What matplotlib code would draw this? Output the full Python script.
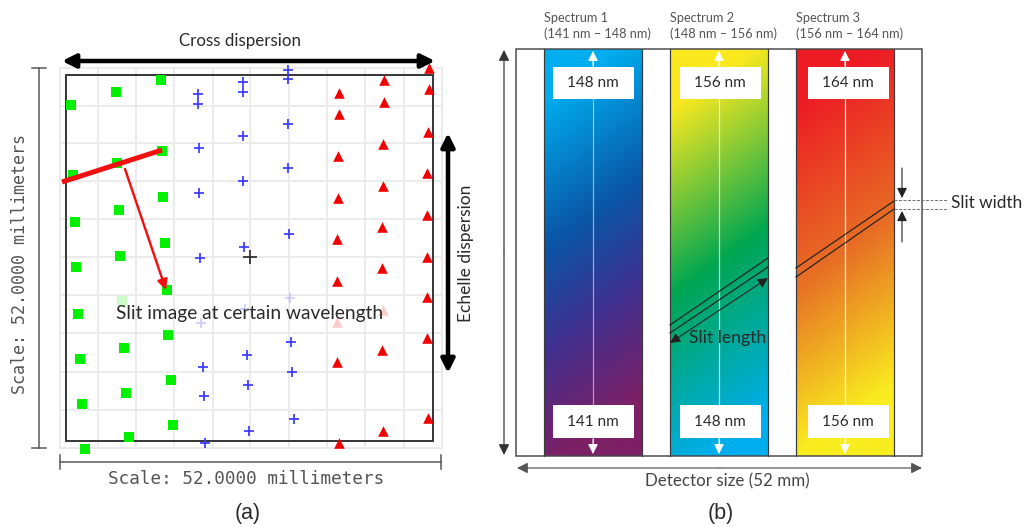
import numpy as np
import matplotlib
matplotlib.use('Agg')
import matplotlib.pyplot as plt
from matplotlib.colors import LinearSegmentedColormap
from matplotlib.patches import Rectangle

# Spot positions, in image pixels
green_x = [71, 73, 75, 76, 78, 80, 82, 85, 116, 117, 119, 120, 124, 126, 129,
           161, 162, 163, 165, 167, 168, 171, 173]
green_y = [105, 175, 222, 267, 314, 359, 404, 449, 92, 163, 210, 256, 348, 393, 437,
           80, 151, 197, 243, 290, 335, 380, 425]
blue_x = [198, 198, 199, 199, 200, 203, 204, 205, 243, 243, 243, 243, 244, 247, 248, 249,
          288, 288, 288, 288, 289, 291, 292, 294]
blue_y = [94, 104, 148, 193, 258, 367, 396, 443, 82, 92, 136, 181, 247, 355, 385, 431,
          70, 79, 124, 168, 234, 342, 372, 419]
red_x = [339, 339, 338, 338, 337, 337, 337, 339, 384, 384, 383, 383, 382, 382, 382, 383,
         429, 429, 428, 427, 427, 427, 427, 427, 428]
red_y = [93, 114, 156, 198, 239, 281, 362, 443, 80, 102, 144, 186, 227, 268, 350, 431,
         68, 89, 132, 173, 215, 257, 297, 338, 418]
# spots washed out behind the label
faint_green = ([122], [301])
faint_blue = ([201, 245, 290], [323, 309, 298])
faint_red = ([337, 383], [322, 310])
center_x, center_y = [250], [257]

grid_x = [60, 98, 136, 174, 213, 250, 289, 327, 365, 404, 442]
grid_y = [68, 106, 143, 181, 219, 257, 295, 333, 372, 410, 448]

band_left = [544, 670, 796]
band_right = [642, 768, 894]
band_mid = [593, 719, 845]
spectrum_names = ['Spectrum 1', 'Spectrum 2', 'Spectrum 3']
spectrum_ranges = ['(141 nm \u2013 148 nm)', '(148 nm \u2013 156 nm)', '(156 nm \u2013 164 nm)']
top_labels = ['148 nm', '156 nm', '164 nm']
bottom_labels = ['141 nm', '148 nm', '156 nm']
band_stops = [
    [(0, '#00aeef'), (0.1, '#00aeef'), (0.42, '#0a55a5'), (0.64, '#41308f'), (0.88, '#7d2066'), (1, '#7d2066')],
    [(0, '#fbe91f'), (0.12, '#fbe91f'), (0.52, '#00a651'), (0.92, '#00aeef'), (1, '#00aeef')],
    [(0, '#ed1c24'), (0.12, '#ed1c24'), (0.5, '#e76f25'), (0.86, '#f9ed1f'), (1, '#f9ed1f')],
]

plt.rcParams['font.family'] = ['Lato', 'DejaVu Sans']
dark = '#2a2a2a'
px = 0.72  # points per image pixel at dpi 100

fig = plt.figure(figsize=(10.24, 5.27), dpi=100)
ax = fig.add_axes([0, 0, 1, 1])
ax.axis('off')


def arrow(x0, y0, x1, y1, style='-|>', lw=1.0, color=dark, scale=8, z=6):
    ax.annotate('', xy=(x1, y1), xytext=(x0, y0), zorder=z,
                arrowprops=dict(arrowstyle=style, lw=lw * px, color=color, mutation_scale=scale,
                                shrinkA=0, shrinkB=0))


# (a) spot diagram
for g in grid_x:
    ax.plot([g, g], [grid_y[0], grid_y[-1]], color='#ebebeb', lw=2 * px, zorder=1)
for g in grid_y:
    ax.plot([grid_x[0], grid_x[-1]], [g, g], color='#ebebeb', lw=2 * px, zorder=1)
ax.add_patch(Rectangle((66, 75), 367, 366, fill=False, ec='#3a3a3a', lw=2 * px, zorder=2))

ax.scatter(green_x, green_y, marker='s', s=42, color='#00f000', lw=0, zorder=3)
ax.scatter(blue_x, blue_y, marker='+', s=42, color='#3b3bff', lw=1.25, zorder=3)
ax.scatter(red_x, red_y, marker='^', s=58, color='#f00000', lw=0, zorder=3)
ax.scatter(*faint_green, marker='s', s=42, color='#00f000', alpha=0.2, lw=0, zorder=3)
ax.scatter(*faint_blue, marker='+', s=42, color='#3b3bff', alpha=0.25, lw=1.25, zorder=3)
ax.scatter(*faint_red, marker='^', s=58, color='#f00000', alpha=0.2, lw=0, zorder=3)
ax.scatter(center_x, center_y, marker='+', s=110, color='#333333', lw=1.3, zorder=3)

arrow(62, 61, 435, 61, '<|-|>', 4.5, 'black', 20)
arrow(448, 133, 448, 373, '<|-|>', 4.5, 'black', 20)
ax.plot([62, 162], [182, 150], color='#f01010', lw=5 * px, solid_capstyle='butt', zorder=5)
arrow(125, 169, 166, 290, '-|>', 2.4, '#f01010', 15)

ax.text(240, 41, 'Cross dispersion', fontsize=12.2, color=dark, ha='center', va='center')
ax.text(466, 253, 'Echelle dispersion', fontsize=12.5, color=dark, ha='center', va='center', rotation=90)
ax.text(116, 314, 'Slit image at certain wavelength', fontsize=13.8, color=dark, ha='left', va='center', zorder=7)

ax.plot([39, 39], [68, 448], color='#555555', lw=1.5 * px)
ax.plot([32, 46], [68, 68], color='#555555', lw=1.5 * px)
ax.plot([32, 46], [448, 448], color='#555555', lw=1.5 * px)
ax.plot([60, 441], [462, 462], color='#555555', lw=1.5 * px)
ax.plot([60, 60], [455, 469], color='#555555', lw=1.5 * px)
ax.plot([441, 441], [455, 469], color='#555555', lw=1.5 * px)
ax.text(20, 264, 'Scale: 52.0000 millimeters', family='DejaVu Sans Mono', fontsize=12, color='#555555',
        rotation=90, ha='center', va='center')
ax.text(246, 479, 'Scale: 52.0000 millimeters', family='DejaVu Sans Mono', fontsize=12.7, color='#555555',
        ha='center', va='center')
ax.text(248, 513, '(a)', family='Liberation Sans', fontsize=15.5, color=dark, ha='center', va='center')

# (b) detector layout
top, bottom = 49, 456
k = 0.7
yy, xx = np.mgrid[top:bottom:200j, 0:98:60j]
t = ((yy - top) + k * xx) / ((bottom - top) + k * 98)
for i in range(3):
    cmap = LinearSegmentedColormap.from_list(f'band{i}', band_stops[i])
    ax.imshow(t, cmap=cmap, vmin=0, vmax=1, extent=(band_left[i], band_right[i], bottom, top),
              aspect='auto', interpolation='bilinear', zorder=2)
    ax.plot([band_left[i]] * 2, [top, bottom], color='#3a3a3a', lw=1.2 * px, zorder=3)
    ax.plot([band_right[i]] * 2, [top, bottom], color='#3a3a3a', lw=1.2 * px, zorder=3)
    m = band_mid[i]
    line_alpha = 0.55 if i == 0 else 0.8 if i == 1 else 1
    ax.plot([m, m], [58, 446], color='white', lw=1.2 * px, alpha=line_alpha, zorder=3)
    arrow(m, 66, m, 51, '-|>', 1, 'white', 15)
    arrow(m, 439, m, 454, '-|>', 1, 'white', 15)
    bx = [553, 680, 808][i]
    ax.add_patch(Rectangle((bx, 67), 80.5, 32, fc='white', ec='none', zorder=4))
    ax.add_patch(Rectangle((bx, 405), 80.5, 33, fc='white', ec='none', zorder=4))
    ax.text(bx + 40, 83, top_labels[i], fontsize=11, color=dark, ha='center', va='center', zorder=7)
    ax.text(bx + 40, 422, bottom_labels[i], fontsize=11, color=dark, ha='center', va='center', zorder=7)
    ax.text(band_left[i], 18, spectrum_names[i], fontsize=9.2, color='#555555', ha='left', va='center')
    ax.text(band_left[i], 34, spectrum_ranges[i], fontsize=9.2, color='#555555', ha='left', va='center')

ax.add_patch(Rectangle((516, top), 406, bottom - top, fill=False, ec='#4a4a4a', lw=1.5 * px, zorder=5))

# slit images across bands 2 and 3
for x0, x1, y0, y1 in [(670, 768, 325, 258), (670, 768, 333, 267),
                       (796, 894, 268, 201), (796, 894, 277, 209)]:
    ax.plot([x0, x1], [y0, y1], color='#222222', lw=1.2 * px, zorder=5)
arrow(670, 343, 768, 278, '<|-|>', 1.1, '#222222', 15)
ax.text(689, 338, 'Slit length', fontsize=12.7, color=dark, ha='left', va='center', zorder=7)

ax.plot([894, 948], [200, 200], color='#777777', lw=1 * px, ls=(0, (3, 1.5)), zorder=5)
ax.plot([894, 948], [209, 209], color='#777777', lw=1 * px, ls=(0, (3, 1.5)), zorder=5)
arrow(902, 168, 902, 198, '-|>', 1.1, '#222222', 15)
arrow(902, 242, 902, 211, '-|>', 1.1, '#222222', 15)
ax.text(951, 203, 'Slit width', fontsize=12.4, color=dark, ha='left', va='center')

arrow(504, 250, 504, 50, '-|>', 1.2, '#333333', 16)
arrow(504, 250, 504, 455, '-|>', 1.2, '#333333', 16)
arrow(720, 468, 517, 468, '-|>', 1.2, '#555555', 16)
arrow(720, 468, 922, 468, '-|>', 1.2, '#555555', 16)
ax.text(727, 481, 'Detector size (52 mm)', fontsize=12.2, color='#444444', ha='center', va='center')
ax.text(721, 513, '(b)', family='Liberation Sans', fontsize=15.5, color=dark, ha='center', va='center')

ax.set_xlim(0, 1024)
ax.set_ylim(527, 0)
fig.savefig('out.png', dpi=100)
